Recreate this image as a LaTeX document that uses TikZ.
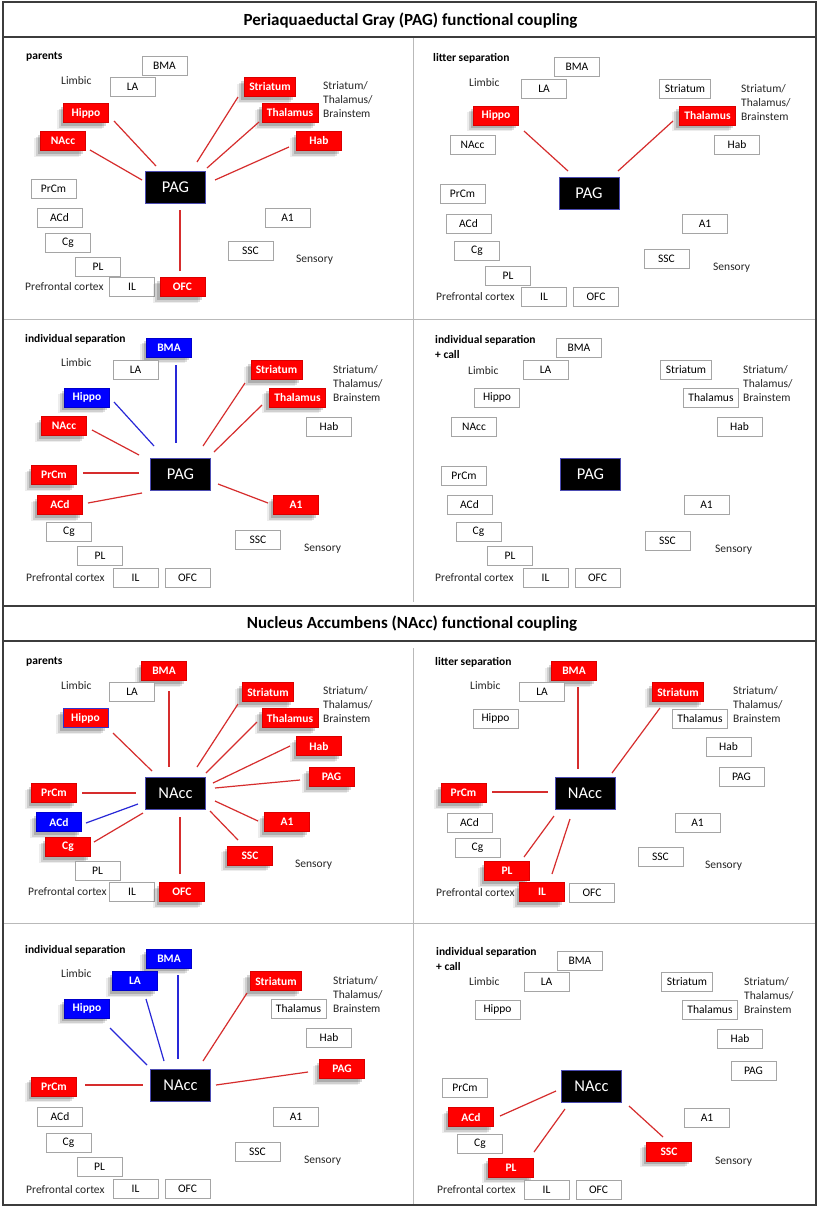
\documentclass[tikz,border=0pt]{standalone}
\usepackage{fontspec}
\setmainfont{Carlito}
\usetikzlibrary{calc,shadows}
\definecolor{lred}{RGB}{214,45,45}
\definecolor{lblue}{RGB}{40,40,215}
\definecolor{bred}{RGB}{255,0,0}
\definecolor{bblue}{RGB}{0,0,255}
\definecolor{wborder}{RGB}{165,165,165}
\definecolor{framec}{RGB}{60,60,60}
\definecolor{dividerc}{RGB}{185,185,185}
\tikzset{
 box/.style={minimum width=45pt, minimum height=19pt, inner xsep=5pt, inner ysep=1pt},
 wbox/.style={box, draw=wborder, line width=0.9pt, fill=white, text=black, font=\fontsize{11.5}{13}\selectfont},
 shad/.style={drop shadow={shadow xshift=-3pt,shadow yshift=-3pt,opacity=.16,fill=black},
              drop shadow={shadow xshift=-5pt,shadow yshift=-5pt,opacity=.12,fill=black},
              drop shadow={shadow xshift=-7pt,shadow yshift=-6pt,opacity=.07,fill=black}},
 rbox/.style={box, shad, fill=bred, draw=bred!85!black, line width=0.5pt, text=white, font=\fontsize{11.5}{13}\selectfont\bfseries},
 bbox/.style={box, shad, fill=bblue, draw=bblue!80!black, line width=0.5pt, text=white, font=\fontsize{11.5}{13}\selectfont\bfseries},
 kbox/.style={minimum width=60pt, minimum height=32pt, fill=black, draw=blue!40!gray, line width=0.5pt, text=white, font=\fontsize{16.5}{18}\selectfont},
 lab/.style={anchor=west, inner sep=0pt, font=\fontsize{11.5}{14}\selectfont, text=black!85, align=left},
 hd/.style={anchor=west, inner sep=0pt, font=\fontsize{11.5}{15}\selectfont\bfseries, align=left},
 ttl/.style={inner sep=0pt, font=\fontsize{17}{19}\selectfont\bfseries},
 rl/.style={draw=lred, line width=1.2pt},
 bl/.style={draw=lblue, line width=1.2pt},
 frm/.style={draw=framec, line width=1.6pt},
 dvd/.style={draw=dividerc, line width=0.8pt},
}
\newcommand\lnk[5]{\draw[#1] ($(#2)+(#3)$) -- ($(#4)+(#5)$);}
\begin{document}
\begin{tikzpicture}[x=1pt,y=-1pt]
\fill[white] (0,0) rectangle (822,1210);
\useasboundingbox (0,0) rectangle (822,1210);
% frame
\draw[dvd] (3,319) -- (816,319);
\draw[dvd] (3,923) -- (816,923);
\draw[dvd] (413,37) -- (413,602);
\draw[dvd] (413,648) -- (413,1205);
\draw[frm] (3,2) rectangle (816,1205);
\draw[frm] (3,37) -- (816,37);
\draw[frm] (3,606) -- (816,606);
\draw[frm] (3,641) -- (816,641);
\node[ttl] (t1) at (410.5,21) {Periaquaeductal Gray (PAG) functional coupling};
\node[ttl] (t2) at (412,624) {Nucleus Accumbens (NAcc) functional coupling};

% ===== panel a: PAG parents
\node[hd] at (26,57) {parents};
\node[lab] at (61,81) {Limbic};
\node[wbox] (a-BMA) at (164.5,66) {BMA};
\node[wbox] (a-LA) at (132.5,87) {LA};
\node[rbox] (a-Striatum) at (270,87) {Striatum};
\node[rbox] (a-Thalamus) at (290,113) {Thalamus};
\node[rbox] (a-Hippo) at (86,113) {Hippo};
\node[rbox] (a-NAcc) at (63,141) {NAcc};
\node[rbox] (a-Hab) at (319,141) {Hab};
\node[kbox] (a-PAG) at (175.5,187.5) {PAG};
\node[wbox] (a-PrCm) at (53.5,189) {PrCm};
\node[wbox] (a-ACd) at (59.5,217.5) {ACd};
\node[wbox] (a-Cg) at (68,242.5) {Cg};
\node[wbox] (a-PL) at (98,266.5) {PL};
\node[wbox] (a-IL) at (132,287) {IL};
\node[rbox] (a-OFC) at (182.5,287) {OFC};
\node[wbox] (a-A1) at (287.5,217.5) {A1};
\node[wbox] (a-SSC) at (250.5,250.5) {SSC};
\node[lab] at (323,100) {Striatum/\\Thalamus/\\Brainstem};
\node[lab] at (296,260) {Sensory};
\node[lab] at (25,287) {Prefrontal cortex};
\lnk{rl}{a-Hippo}{28,8}{a-PAG}{-19.5,-21.5}
\lnk{rl}{a-NAcc}{27,9}{a-PAG}{-33.5,-7.5}
\lnk{rl}{a-Striatum}{-32,10}{a-PAG}{21.5,-25.5}
\lnk{rl}{a-Thalamus}{-31,9}{a-PAG}{31.5,-19.5}
\lnk{rl}{a-Hab}{-30,6}{a-PAG}{39.5,-7.5}
\lnk{rl}{a-OFC}{-2.5,-16}{a-PAG}{4.5,22.5}

% ===== panel b: PAG litter separation
\node[hd] at (433,58) {litter separation};
\node[lab] at (469,83) {Limbic};
\node[wbox] (b-BMA) at (577,67) {BMA};
\node[wbox] (b-LA) at (544,89) {LA};
\node[wbox] (b-Striatum) at (685,89) {Striatum};
\node[rbox] (b-Thalamus) at (707.5,115.5) {Thalamus};
\node[rbox] (b-Hippo) at (496,115.5) {Hippo};
\node[wbox] (b-NAcc) at (472.5,145) {NAcc};
\node[wbox] (b-Hab) at (737,145) {Hab};
\node[kbox] (b-PAG) at (589,193) {PAG};
\node[wbox] (b-PrCm) at (462.5,194) {PrCm};
\node[wbox] (b-ACd) at (468.5,223.5) {ACd};
\node[wbox] (b-Cg) at (477,250.5) {Cg};
\node[wbox] (b-PL) at (508,275.5) {PL};
\node[wbox] (b-IL) at (544,296.5) {IL};
\node[wbox] (b-OFC) at (596,296.5) {OFC};
\node[wbox] (b-A1) at (705,223.5) {A1};
\node[wbox] (b-SSC) at (666.5,259) {SSC};
\node[lab] at (741,103) {Striatum/\\Thalamus/\\Brainstem};
\node[lab] at (713,268) {Sensory};
\node[lab] at (436,297) {Prefrontal cortex};
\lnk{rl}{b-Hippo}{28,15.5}{b-PAG}{-21,-22}
\lnk{rl}{b-Thalamus}{-34.5,5.5}{b-PAG}{29,-22}

% ===== panel c: PAG individual separation
\node[hd] at (25,339) {individual separation};
\node[lab] at (61,363) {Limbic};
\node[bbox] (c-BMA) at (169,347.5) {BMA};
\node[wbox] (c-LA) at (135.5,369.5) {LA};
\node[rbox] (c-Striatum) at (276.5,370) {Striatum};
\node[rbox] (c-Thalamus) at (297.5,397.5) {Thalamus};
\node[bbox] (c-Hippo) at (87,397.5) {Hippo};
\node[rbox] (c-NAcc) at (64,426) {NAcc};
\node[wbox] (c-Hab) at (329,427) {Hab};
\node[kbox] (c-PAG) at (180.5,474.5) {PAG};
\node[rbox] (c-PrCm) at (54,475) {PrCm};
\node[rbox] (c-ACd) at (60,505) {ACd};
\node[wbox] (c-Cg) at (69,531.5) {Cg};
\node[wbox] (c-PL) at (100,556) {PL};
\node[wbox] (c-IL) at (135.5,577.5) {IL};
\node[wbox] (c-OFC) at (187.5,577.5) {OFC};
\node[rbox] (c-A1) at (296,505) {A1};
\node[wbox] (c-SSC) at (258,540) {SSC};
\node[lab] at (333,384) {Striatum/\\Thalamus/\\Brainstem};
\node[lab] at (304,549) {Sensory};
\node[lab] at (26,578) {Prefrontal cortex};
\lnk{bl}{c-BMA}{7,17.5}{c-PAG}{-4.5,-31.5}
\lnk{bl}{c-Hippo}{27,4.5}{c-PAG}{-26.5,-28.5}
\lnk{rl}{c-NAcc}{28,4}{c-PAG}{-41.5,-19.5}
\lnk{rl}{c-PrCm}{29,-2}{c-PAG}{-41.5,-1.5}
\lnk{rl}{c-ACd}{28,-2}{c-PAG}{-38.5,18.5}
\lnk{rl}{c-Striatum}{-31.5,13}{c-PAG}{22.5,-28.5}
\lnk{rl}{c-Thalamus}{-35.5,7.5}{c-PAG}{33.5,-22.5}
\lnk{rl}{c-A1}{-28,-2}{c-PAG}{37.5,9.5}

% ===== panel d: PAG individual separation + call
\node[hd] at (435,346.5) {individual separation\\+ call};
\node[lab] at (468,371) {Limbic};
\node[wbox] (d-BMA) at (579,348) {BMA};
\node[wbox] (d-LA) at (545.5,370) {LA};
\node[wbox] (d-Striatum) at (686,369.5) {Striatum};
\node[wbox] (d-Thalamus) at (711,397.5) {Thalamus};
\node[wbox] (d-Hippo) at (497,397.5) {Hippo};
\node[wbox] (d-NAcc) at (474,427) {NAcc};
\node[wbox] (d-Hab) at (739.5,427) {Hab};
\node[kbox] (d-PAG) at (590.5,474.5) {PAG};
\node[wbox] (d-PrCm) at (464,476) {PrCm};
\node[wbox] (d-ACd) at (469.5,505) {ACd};
\node[wbox] (d-Cg) at (478.5,532) {Cg};
\node[wbox] (d-PL) at (510,556) {PL};
\node[wbox] (d-IL) at (545.5,578) {IL};
\node[wbox] (d-OFC) at (597.5,578) {OFC};
\node[wbox] (d-A1) at (706.5,505) {A1};
\node[wbox] (d-SSC) at (667.5,540.5) {SSC};
\node[lab] at (743,384) {Striatum/\\Thalamus/\\Brainstem};
\node[lab] at (715,550) {Sensory};
\node[lab] at (435,578) {Prefrontal cortex};

% ===== panel e: NAcc parents
\node[hd] at (26,662) {parents};
\node[lab] at (61,686) {Limbic};
\node[rbox] (e-BMA) at (164,671) {BMA};
\node[wbox] (e-LA) at (132,692) {LA};
\node[rbox] (e-Striatum) at (268,692) {Striatum};
\node[rbox] (e-Thalamus) at (290,718) {Thalamus};
\node[rbox, draw=blue!60!gray] (e-Hippo) at (85.5,718) {Hippo};
\node[rbox] (e-Hab) at (319,746) {Hab};
\node[rbox] (e-PAG) at (331.5,777) {PAG};
\node[kbox] (e-NAcc) at (175.5,793) {NAcc};
\node[rbox] (e-PrCm) at (54,793) {PrCm};
\node[bbox] (e-ACd) at (59,822) {ACd};
\node[rbox] (e-Cg) at (68,847) {Cg};
\node[wbox] (e-PL) at (97.5,871) {PL};
\node[wbox] (e-IL) at (132,892) {IL};
\node[rbox] (e-OFC) at (182,892) {OFC};
\node[rbox] (e-A1) at (287,822) {A1};
\node[rbox] (e-SSC) at (250,855.5) {SSC};
\node[lab] at (323,705) {Striatum/\\Thalamus/\\Brainstem};
\node[lab] at (295,865) {Sensory};
\node[lab] at (28,892) {Prefrontal cortex};
\lnk{rl}{e-BMA}{5,20}{e-NAcc}{-6.5,-26}
\lnk{rl}{e-Hippo}{27.5,15}{e-NAcc}{-23.5,-22}
\lnk{rl}{e-Striatum}{-30,12}{e-NAcc}{21.5,-26}
\lnk{rl}{e-Thalamus}{-33,4}{e-NAcc}{30.5,-20}
\lnk{rl}{e-Hab}{-29,0}{e-NAcc}{37.5,-10}
\lnk{rl}{e-PAG}{-31.5,3}{e-NAcc}{39.5,-5}
\lnk{rl}{e-A1}{-29,-1}{e-NAcc}{39.5,8}
\lnk{rl}{e-SSC}{-12,-15.5}{e-NAcc}{34.5,18}
\lnk{rl}{e-OFC}{-2,-18}{e-NAcc}{4.5,24}
\lnk{rl}{e-Cg}{26,-5}{e-NAcc}{-32.5,20}
\lnk{bl}{e-ACd}{27,1}{e-NAcc}{-37.5,11}
\lnk{rl}{e-PrCm}{28,0}{e-NAcc}{-39.5,0}

% ===== panel f: NAcc litter separation
\node[hd] at (435,662) {litter separation};
\node[lab] at (470,686) {Limbic};
\node[rbox] (f-BMA) at (574,671) {BMA};
\node[wbox] (f-LA) at (542,692) {LA};
\node[rbox] (f-Striatum) at (678,692) {Striatum};
\node[wbox] (f-Thalamus) at (700,718.5) {Thalamus};
\node[wbox] (f-Hippo) at (495.5,718.5) {Hippo};
\node[wbox] (f-Hab) at (728.5,746.5) {Hab};
\node[wbox] (f-PAG) at (741.5,777) {PAG};
\node[kbox] (f-NAcc) at (585,793) {NAcc};
\node[rbox] (f-PrCm) at (463.5,793) {PrCm};
\node[wbox] (f-ACd) at (469.5,822.5) {ACd};
\node[wbox] (f-Cg) at (477.5,847.5) {Cg};
\node[rbox] (f-PL) at (507,871) {PL};
\node[rbox] (f-IL) at (542,892) {IL};
\node[wbox] (f-OFC) at (592,892.5) {OFC};
\node[wbox] (f-A1) at (697.5,822.5) {A1};
\node[wbox] (f-SSC) at (660.5,856.5) {SSC};
\node[lab] at (733,705) {Striatum/\\Thalamus/\\Brainstem};
\node[lab] at (705,866) {Sensory};
\node[lab] at (436,893) {Prefrontal cortex};
\lnk{rl}{f-BMA}{4,16}{f-NAcc}{-7,-24}
\lnk{rl}{f-Striatum}{-18,16}{f-NAcc}{27,-20}
\lnk{rl}{f-PrCm}{28.5,-1}{f-NAcc}{-37,-1}
\lnk{rl}{f-PL}{17,-14}{f-NAcc}{-31,23}
\lnk{rl}{f-IL}{10,-18}{f-NAcc}{-15,26}

% ===== panel g: NAcc individual separation
\node[hd] at (25,950) {individual separation};
\node[lab] at (61,974) {Limbic};
\node[bbox] (g-BMA) at (169,958.5) {BMA};
\node[bbox] (g-LA) at (135,981) {LA};
\node[bbox] (g-Hippo) at (87,1008.5) {Hippo};
\node[rbox] (g-Striatum) at (276,981) {Striatum};
\node[wbox] (g-Thalamus) at (298.5,1008.5) {Thalamus};
\node[wbox] (g-Hab) at (329,1038) {Hab};
\node[rbox] (g-PAG) at (342,1069) {PAG};
\node[kbox] (g-NAcc) at (180.5,1085.5) {NAcc};
\node[rbox] (g-PrCm) at (54,1086.5) {PrCm};
\node[wbox] (g-ACd) at (60,1117) {ACd};
\node[wbox] (g-Cg) at (68.5,1143) {Cg};
\node[wbox] (g-PL) at (99.5,1167) {PL};
\node[wbox] (g-IL) at (135.5,1189) {IL};
\node[wbox] (g-OFC) at (187.5,1189) {OFC};
\node[wbox] (g-A1) at (296,1117) {A1};
\node[wbox] (g-SSC) at (257.5,1151.5) {SSC};
\node[lab] at (333,995) {Striatum/\\Thalamus/\\Brainstem};
\node[lab] at (304,1161) {Sensory};
\node[lab] at (26,1190) {Prefrontal cortex};
\lnk{bl}{g-BMA}{9,16.5}{g-NAcc}{-2.5,-26.5}
\lnk{bl}{g-LA}{11,18}{g-NAcc}{-16.5,-24.5}
\lnk{bl}{g-Hippo}{23,19.5}{g-NAcc}{-33.5,-20.5}
\lnk{rl}{g-Striatum}{-29,12}{g-NAcc}{22.5,-24.5}
\lnk{rl}{g-PrCm}{31,-1.5}{g-NAcc}{-37.5,-0.5}
\lnk{rl}{g-PAG}{-34,3}{g-NAcc}{35.5,-0.5}

% ===== panel h: NAcc individual separation + call
\node[hd] at (436,958.5) {individual separation\\+ call};
\node[lab] at (469,982) {Limbic};
\node[wbox] (h-BMA) at (580,960.5) {BMA};
\node[wbox] (h-LA) at (546.5,982) {LA};
\node[wbox] (h-Hippo) at (497.5,1009.5) {Hippo};
\node[wbox] (h-Striatum) at (687,982) {Striatum};
\node[wbox] (h-Thalamus) at (710,1009.5) {Thalamus};
\node[wbox] (h-Hab) at (740,1038.5) {Hab};
\node[wbox] (h-PAG) at (753.5,1070.5) {PAG};
\node[kbox] (h-NAcc) at (591.5,1086.5) {NAcc};
\node[wbox] (h-PrCm) at (465,1087.5) {PrCm};
\node[rbox] (h-ACd) at (471,1117) {ACd};
\node[wbox] (h-Cg) at (480,1143.5) {Cg};
\node[rbox] (h-PL) at (511,1167.5) {PL};
\node[wbox] (h-IL) at (546.5,1189.5) {IL};
\node[wbox] (h-OFC) at (598.5,1189.5) {OFC};
\node[wbox] (h-A1) at (707,1117.5) {A1};
\node[rbox] (h-SSC) at (669,1151.5) {SSC};
\node[lab] at (744,996) {Striatum/\\Thalamus/\\Brainstem};
\node[lab] at (715,1162) {Sensory};
\node[lab] at (437,1190) {Prefrontal cortex};
\lnk{rl}{h-ACd}{29,-1}{h-NAcc}{-35.5,4.5}
\lnk{rl}{h-PL}{23,-15.5}{h-NAcc}{-26.5,22.5}
\lnk{rl}{h-SSC}{-6,-14.5}{h-NAcc}{37.5,19.5}
\end{tikzpicture}
\end{document}
